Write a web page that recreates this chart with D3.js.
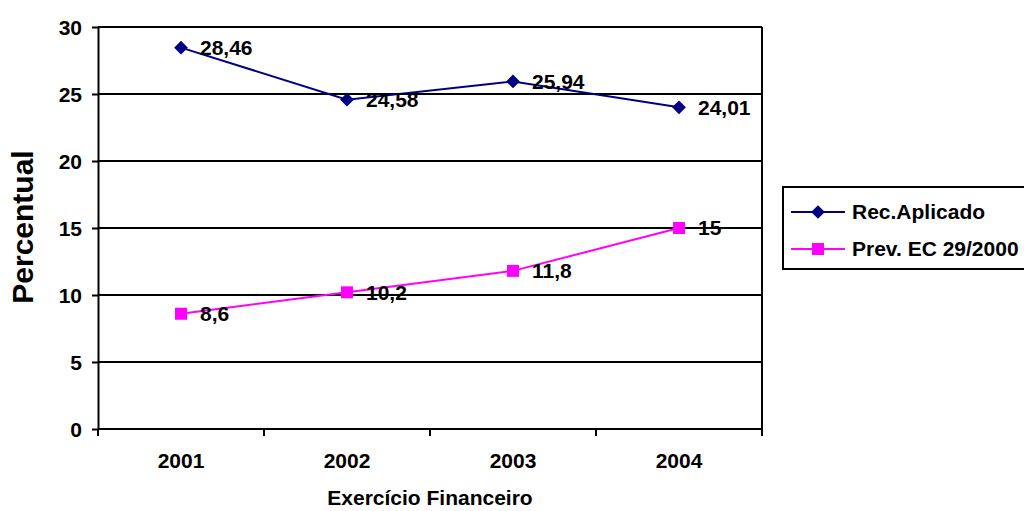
<!DOCTYPE html>
<html>
<head>
<meta charset="utf-8">
<script src="https://cdn.jsdelivr.net/npm/d3@7"></script>
<style>
  body { margin: 0; background: #fff; }
  text { font-family: "Liberation Sans", Arial, sans-serif; font-weight: bold; fill: #000; }
</style>
</head>
<body>
<svg id="chart" width="1024" height="511"></svg>
<script>
const years = ["2001", "2002", "2003", "2004"];
const recAplicado = [28.46, 24.58, 25.94, 24.01];
const prevEC = [8.6, 10.2, 11.8, 15];
const recLabels = ["28,46", "24,58", "25,94", "24,01"];
const prevLabels = ["8,6", "10,2", "11,8", "15"];
const yTicks = [0, 5, 10, 15, 20, 25, 30];
const seriesNames = ["Rec.Aplicado", "Prev. EC 29/2000"];

const svg = d3.select("#chart");
const plotL = 98, plotR = 762, plotT = 27, plotB = 429;
const FONT = "Liberation Sans, Arial, sans-serif";

const x = d3.scaleBand().domain(years).range([plotL, plotR]).padding(0);
const y = d3.scaleLinear().domain([0, 30]).range([plotB, plotT]);
const cx = d => x(d) + x.bandwidth() / 2;

// horizontal gridlines
svg.append("g").selectAll("line").data(yTicks).join("line")
  .attr("x1", plotL).attr("x2", plotR)
  .attr("y1", d => y(d)).attr("y2", d => y(d))
  .attr("stroke", "#000").attr("stroke-width", 2);

// right border of the plot area
svg.append("line").attr("x1", plotR).attr("x2", plotR).attr("y1", plotT).attr("y2", plotB)
  .attr("stroke", "#000").attr("stroke-width", 2);

// y axis
const yAxis = svg.append("g").attr("transform", `translate(${plotL},0)`)
  .call(d3.axisLeft(y).tickValues(yTicks).tickSize(6).tickSizeOuter(0).tickPadding(10));
yAxis.select(".domain").attr("stroke", "#000").attr("stroke-width", 2);
yAxis.selectAll(".tick line").attr("stroke", "#000").attr("stroke-width", 2);
yAxis.selectAll(".tick text").attr("dy", "0.35em")
  .style("font-size", "21px").style("font-family", FONT).style("font-weight", "bold");

// x axis: ticks at category boundaries
const xAxisG = svg.append("g").attr("transform", `translate(0,${plotB})`);
xAxisG.append("line").attr("x1", plotL).attr("x2", plotR).attr("stroke", "#000").attr("stroke-width", 2);
const bounds = years.map(d => x(d)).concat([plotR]);
xAxisG.selectAll("line.tk").data(bounds).join("line").attr("class", "tk")
  .attr("x1", d => d).attr("x2", d => d).attr("y1", 0).attr("y2", 7)
  .attr("stroke", "#000").attr("stroke-width", 2);
xAxisG.selectAll("text").data(years).join("text")
  .attr("x", d => cx(d)).attr("y", 39)
  .attr("text-anchor", "middle").style("font-size", "21px").text(d => d);

// axis titles
svg.append("text").attr("x", 430).attr("y", 505).attr("text-anchor", "middle")
  .style("font-size", "21px").text("Exercício Financeiro");
svg.append("text").attr("transform", "translate(33,227) rotate(-90)")
  .attr("text-anchor", "middle").style("font-size", "30px").text("Percentual");

const line = d3.line().x((d, i) => cx(years[i])).y(d => y(d));
const diamond = d3.symbol(d3.symbolDiamond2, 120);

// Rec.Aplicado series
svg.append("path").datum(recAplicado).attr("d", line)
  .attr("fill", "none").attr("stroke", "#000080").attr("stroke-width", 2);
svg.append("g").selectAll("path").data(recAplicado).join("path")
  .attr("transform", (d, i) => `translate(${cx(years[i])},${y(d)})`)
  .attr("d", diamond).attr("fill", "#000080");
svg.append("g").selectAll("text").data(recAplicado).join("text")
  .attr("x", (d, i) => cx(years[i]) + 19).attr("y", d => y(d)).attr("dy", "0.35em")
  .style("font-size", "21px").text((d, i) => recLabels[i]);

// Prev. EC 29/2000 series
svg.append("path").datum(prevEC).attr("d", line)
  .attr("fill", "none").attr("stroke", "#FF00FF").attr("stroke-width", 2);
svg.append("g").selectAll("rect").data(prevEC).join("rect")
  .attr("x", (d, i) => cx(years[i]) - 6).attr("y", d => y(d) - 6)
  .attr("width", 12).attr("height", 12).attr("fill", "#FF00FF");
svg.append("g").selectAll("text").data(prevEC).join("text")
  .attr("x", (d, i) => cx(years[i]) + 19).attr("y", d => y(d)).attr("dy", "0.35em")
  .style("font-size", "21px").text((d, i) => prevLabels[i]);

// legend
const lg = svg.append("g");
lg.append("rect").attr("x", 783).attr("y", 187).attr("width", 250).attr("height", 82)
  .attr("fill", "#fff").attr("stroke", "#000").attr("stroke-width", 2);
const colors = ["#000080", "#FF00FF"];
seriesNames.forEach((name, i) => {
  const ly = 212 + i * 37;
  lg.append("line").attr("x1", 791).attr("x2", 845).attr("y1", ly).attr("y2", ly)
    .attr("stroke", colors[i]).attr("stroke-width", 2);
  if (i === 0) {
    lg.append("path").attr("transform", `translate(818,${ly})`)
      .attr("d", diamond).attr("fill", colors[i]);
  } else {
    lg.append("rect").attr("x", 812).attr("y", ly - 6).attr("width", 12).attr("height", 12).attr("fill", colors[i]);
  }
  lg.append("text").attr("x", 852).attr("y", ly).attr("dy", "0.35em").style("font-size", "21px").text(name);
});
</script>
</body>
</html>
